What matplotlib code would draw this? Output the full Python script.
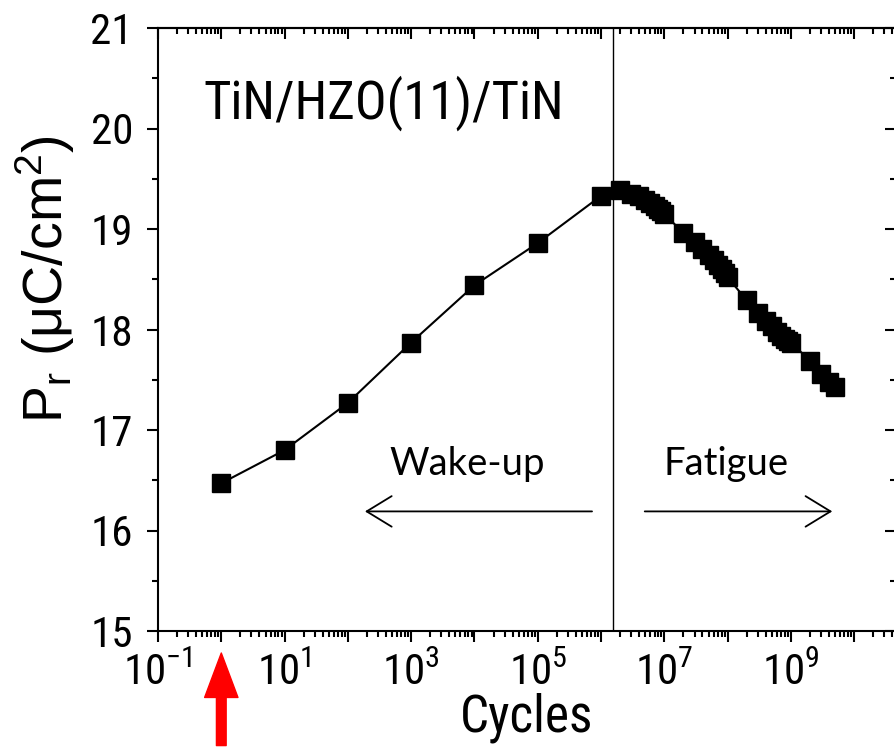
import matplotlib
matplotlib.use("Agg")
import matplotlib.pyplot as plt
from matplotlib.ticker import LogLocator, NullFormatter, FuncFormatter, MultipleLocator
import numpy as np

plt.rcParams['font.family'] = ['Roboto Condensed', 'DejaVu Sans']
plt.rcParams['mathtext.default'] = 'regular'

# ---- data ----
wake_cycles = [1, 1e1, 1e2, 1e3, 1e4, 1e5, 1e6]
wake_pr = [16.47, 16.80, 17.27, 17.87, 18.44, 18.86, 19.33]

fat_cycles = [2e6, 3e6, 4e6, 5e6, 6e6, 7e6, 8e6, 9e6, 1e7,
              2e7, 3e7, 4e7, 5e7, 6e7, 7e7, 8e7, 9e7, 1e8,
              2e8, 3e8, 4e8, 5e8, 6e8, 7e8, 8e8, 9e8, 1e9,
              2e9, 3e9, 4e9, 5e9]
fat_pr = [19.39, 19.35, 19.33, 19.29, 19.26, 19.23, 19.20, 19.18, 19.15,
          18.96, 18.87, 18.80, 18.74, 18.69, 18.64, 18.60, 18.56, 18.52,
          18.29, 18.16, 18.08, 18.03, 17.98, 17.94, 17.91, 17.89, 17.87,
          17.69, 17.56, 17.48, 17.43]

boundary_cycles = 1.55e6
sample_label = "TiN/HZO(11)/TiN"
wake_label = "Wake-up"
fatigue_label = "Fatigue"
xlabel = "Cycles"
ylabel = "P$_{r}$ (μC/cm$^{2}$)"

cycles = wake_cycles + fat_cycles
pr = wake_pr + fat_pr

fig = plt.figure(figsize=(8.94, 7.47), dpi=100)
ax = fig.add_axes([158/894, 116/747, 738/894, 603/747])

ax.plot(cycles, pr, color='black', lw=1.5, marker='s', markersize=13,
        markerfacecolor='black', markeredgecolor='black', zorder=3)
ax.axvline(boundary_cycles, color='black', lw=1.0, zorder=2)

ax.set_xscale('log')
ax.set_xlim(0.1, 10**10.66)
ax.set_ylim(15, 21)

ax.xaxis.set_major_locator(LogLocator(base=10, numticks=30))
ax.xaxis.set_minor_locator(LogLocator(base=10, subs=np.arange(2, 10), numticks=30))
ax.xaxis.set_minor_formatter(NullFormatter())

def fmt(v, pos):
    e = int(round(np.log10(v)))
    if e % 2 == 0:
        return ""
    return "$10^{%d}$" % e

ax.xaxis.set_major_formatter(FuncFormatter(fmt))
ax.yaxis.set_major_locator(MultipleLocator(1))
ax.yaxis.set_minor_locator(MultipleLocator(0.5))

for s in ax.spines.values():
    s.set_linewidth(1.5)

ax.tick_params(axis='both', which='major', direction='out', length=8, width=1.5,
               labelsize=31, top=False, right=False)
ax.tick_params(axis='both', which='minor', direction='out', length=4, width=1.5,
               top=False, right=False)
ax.tick_params(axis='x', which='major', pad=8)
ax.tick_params(axis='y', which='major', pad=10)

# top and right inward ticks
sx = ax.secondary_xaxis('top')
sx.xaxis.set_major_locator(LogLocator(base=10, numticks=30))
sx.xaxis.set_minor_locator(LogLocator(base=10, subs=np.arange(2, 10), numticks=30))
sx.xaxis.set_major_formatter(NullFormatter())
sx.xaxis.set_minor_formatter(NullFormatter())
sx.tick_params(which='major', direction='in', length=8, width=1.5)
sx.tick_params(which='minor', direction='in', length=4, width=1.5)
sx.spines['top'].set_linewidth(1.5)

sy = ax.secondary_yaxis('right')
sy.yaxis.set_major_locator(MultipleLocator(1))
sy.yaxis.set_minor_locator(MultipleLocator(0.5))
sy.yaxis.set_major_formatter(NullFormatter())
sy.tick_params(which='major', direction='in', length=8, width=1.5)
sy.tick_params(which='minor', direction='in', length=4, width=1.5)

ax.set_xlabel(xlabel, fontsize=37, labelpad=-1)
ax.set_ylabel(ylabel, fontsize=40, family=['Liberation Sans', 'DejaVu Sans'])
ax.yaxis.set_label_coords(-0.11, 0.584)

ax.text(0.514, 20.10, sample_label, fontsize=38, ha='left', va='baseline',
        family=['Roboto Condensed', 'DejaVu Sans'])

ax.text(7.8e3, 16.55, wake_label, fontsize=27.5, ha='center', va='baseline',
        family=['Lato', 'DejaVu Sans'])
ax.text(9.3e7, 16.55, fatigue_label, fontsize=27.5, ha='center', va='baseline',
        family=['Lato', 'DejaVu Sans'])

arrow_kw = dict(arrowstyle='->,head_length=0.9,head_width=0.55', color='black',
                lw=1.3, shrinkA=0, shrinkB=0, mutation_scale=20)
ax.annotate('', xy=(186, 16.19), xytext=(7.2e5, 16.19), arrowprops=arrow_kw)
ax.annotate('', xy=(4.5e9, 16.19), xytext=(4.9e6, 16.19), arrowprops=arrow_kw)

# red arrow marking the first cycle
ax.annotate('', xy=(1, -0.0365), xycoords=('data', 'axes fraction'),
            xytext=(1, -0.19), textcoords=('data', 'axes fraction'),
            arrowprops=dict(arrowstyle='simple,head_length=1.6,head_width=1.2,tail_width=0.35',
                            color='#ff0000', shrinkA=0, shrinkB=0, mutation_scale=20),
            annotation_clip=False)

fig.savefig("out.png", dpi=100)
